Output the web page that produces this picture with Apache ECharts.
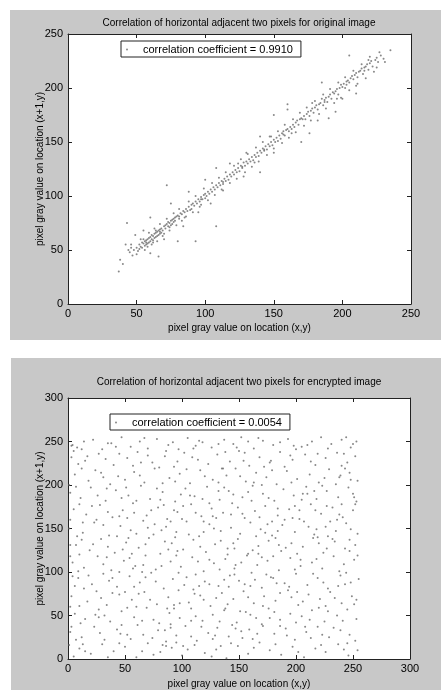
<!DOCTYPE html>
<html><head><meta charset="utf-8">
<script src="https://cdn.jsdelivr.net/npm/echarts@6/dist/echarts.min.js"></script>
<style>html,body{margin:0;padding:0;background:#fff}#c{width:441px;height:690px}</style>
</head><body><div id="c"></div>
<script>
// ---- data ----
var titleTop = "Correlation of horizontal adjacent two pixels for original image";
var titleBottom = "Correlation of horizontal adjacent two pixels for encrypted image";
var xAxisTitle = "pixel gray value on location (x,y)";
var yAxisTitle = "pixel gray value on location (x+1,y)";
var legendTop = "correlation coefficient = 0.9910";
var legendBottom = "correlation coefficient = 0.0054";
var ticksTop = [0, 50, 100, 150, 200, 250];
var ticksBottom = [0, 50, 100, 150, 200, 250, 300];

var originalPoints = [[37,30],[38,41],[40,37],[42,55],[43,75],[44,50],[45,48],[46,52],[47,45],[48,50],[49,64],[50,52],[51,49],[52,55],[52,51],[53,53],[54,57],[54,52],[55,56],[55,60],[56,54],[56,58],[57,59],[57,55],[58,60],[58,56],[59,61],[59,57],[60,80],[60,62],[60,58],[61,64],[61,60],[62,63],[62,59],[63,65],[63,61],[64,66],[64,62],[65,63],[65,67],[66,44],[66,68],[66,64],[67,65],[67,69],[68,70],[68,66],[69,68],[70,72],[70,60],[71,70],[71,73],[72,74],[72,110],[73,72],[73,76],[74,75],[74,71],[75,77],[75,73],[76,78],[76,74],[77,79],[77,76],[78,80],[78,77],[79,81],[80,58],[80,82],[81,79],[82,84],[83,83],[84,86],[84,72],[85,85],[86,88],[87,86],[88,90],[89,87],[90,92],[90,88],[91,93],[92,91],[93,95],[93,58],[94,93],[95,97],[96,95],[97,99],[98,97],[99,101],[100,98],[100,102],[101,100],[102,104],[103,102],[104,106],[104,93],[105,104],[106,108],[107,106],[108,110],[108,72],[109,108],[110,112],[111,110],[112,114],[113,111],[114,116],[115,114],[116,118],[117,115],[118,120],[118,130],[119,118],[120,122],[121,120],[122,124],[123,122],[124,126],[125,123],[126,128],[127,126],[128,131],[128,118],[129,128],[130,132],[131,130],[132,134],[133,132],[134,136],[135,133],[136,138],[137,136],[138,140],[139,137],[140,142],[140,155],[141,140],[142,144],[143,142],[144,146],[145,143],[146,148],[147,146],[148,150],[149,147],[150,152],[151,150],[152,154],[153,151],[154,156],[155,153],[156,158],[157,160],[158,156],[159,161],[160,162],[161,160],[162,164],[163,162],[164,166],[165,164],[166,168],[167,170],[168,166],[169,171],[170,172],[170,150],[172,174],[173,171],[174,176],[175,178],[176,174],[177,179],[178,181],[179,177],[180,182],[181,184],[182,180],[183,185],[184,186],[185,190],[186,184],[187,189],[188,191],[189,187],[190,192],[190,172],[191,194],[192,190],[193,196],[194,195],[195,197],[196,199],[197,194],[198,200],[199,203],[200,201],[201,204],[202,200],[203,206],[204,207],[205,205],[206,209],[207,211],[208,208],[209,212],[210,214],[211,210],[212,215],[213,216],[214,218],[215,213],[216,219],[217,220],[218,222],[219,217],[220,223],[221,225],[222,220],[224,226],[225,228],[226,224],[228,230],[230,227],[235,235],[200,190],[160,180],[150,140],[130,140],[100,115],[95,85],[160,185],[185,205],[210,195],[205,230],[75,93],[58,53],[62,57],[64,68],[69,63],[85,80],[96,90],[112,106],[124,130],[136,131],[148,155],[163,158],[178,186],[196,190],[210,202],[182,170],[150,175],
[46,55],[50,46],[53,60],[56,50],[59,66],[61,55],[63,70],[65,58],[67,74],[70,65],[72,79],[74,68],[77,84],[79,73],[81,88],[83,77],[86,81],[88,95],[91,85],[93,100],[97,92],[99,107],[102,96],[105,112],[107,101],[110,117],[113,105],[115,122],[118,112],[121,128],[123,116],[126,134],[129,122],[131,139],[134,127],[137,145],[139,132],[142,150],[145,138],[147,155],[150,144],[153,160],[156,149],[158,166],[161,154],[164,171],[166,159],[169,177],[172,165],[174,182],[177,170],[180,188],[183,176],[186,194],[188,181],[191,199],[194,186],[197,205],[199,191],[202,210],[205,198],[208,216],[211,204],[214,222],[217,209],[220,229],[223,215],[225,219],[219,226],[227,233],[231,224],[57,57],[67,67],[81,81],[97,97],[113,113],[127,127],[143,143],[157,157],[171,171],[187,187],[203,203],[216,216],[108,126],[176,158],[88,104],[140,122],[195,178],[60,47],[55,68]];

var encryptedPoints = [[8,243],[12,241],[4,246],[22,252],[35,248],[47,255],[55,244],[63,250],[78,253],[88,246],[97,241],[105,254],[118,249],[126,243],[137,252],[145,247],[152,255],[163,242],[171,251],[180,246],[193,253],[205,244],[214,250],[222,255],[231,247],[240,252],[248,243],[253,250],[30,241],[70,242],[112,245],[158,250],[200,241],[244,255],
[3,232],[15,228],[27,236],[40,223],[52,231],[61,238],[74,226],[85,233],[93,221],[102,237],[114,229],[123,224],[131,235],[142,227],[150,239],[159,222],[168,232],[177,226],[186,238],[197,229],[208,235],[217,223],[226,231],[236,237],[245,226],[252,233],[45,236],[80,220],[135,219],[190,221],[240,222],
[6,212],[18,205],[24,217],[37,201],[44,210],[58,215],[67,203],[76,219],[89,208],[98,213],[107,202],[116,217],[127,206],[139,211],[147,219],[156,204],[165,214],[174,209],[183,201],[192,216],[201,207],[212,212],[220,203],[229,218],[238,209],[247,214],[254,205],[50,206],[120,210],[170,200],[235,201],
[2,191],[11,185],[20,197],[33,182],[42,194],[53,188],[64,199],[72,184],[83,192],[94,181],[103,196],[111,187],[122,198],[133,183],[141,193],[153,186],[162,199],[171,190],[181,182],[189,195],[198,188],[209,198],[218,184],[227,193],[237,186],[246,197],[253,181],[60,182],[145,189],[210,190],
[5,172],[16,166],[28,177],[39,163],[48,171],[57,179],[69,165],[79,174],[87,161],[96,169],[108,178],[117,164],[126,173],[136,168],[144,179],[155,162],[164,170],[173,176],[184,165],[194,172],[203,161],[213,178],[222,167],[232,174],[241,163],[250,171],[100,161],[190,160],[25,160],
[1,150],[13,145],[23,157],[36,142],[46,153],[55,148],[66,159],[75,143],[86,152],[95,146],[104,158],[115,141],[124,155],[134,147],[143,151],[151,144],[160,157],[169,149],[179,142],[188,154],[199,146],[207,158],[216,143],[226,152],[235,147],[244,156],[254,144],[82,148],[175,155],[219,140],
[7,131],[19,125],[29,138],[41,122],[51,134],[62,128],[71,139],[81,121],[91,133],[101,126],[110,137],[121,123],[129,132],[140,127],[149,138],[158,121],[167,130],[176,136],[187,124],[196,133],[206,129],[215,139],[224,122],[234,135],[243,127],[252,131],[48,126],[140,120],[232,138],
[4,111],[14,105],[26,118],[38,102],[49,113],[59,107],[68,119],[77,103],[90,112],[99,106],[109,117],[119,101],[128,110],[138,115],[146,104],[157,119],[166,108],[175,113],[185,102],[195,116],[204,107],[214,111],[223,104],[233,118],[242,109],[251,114],[65,100],[180,118],[2,118],
[9,93],[21,86],[31,98],[43,83],[54,95],[63,88],[73,99],[84,81],[92,92],[102,85],[112,97],[120,89],[132,84],[142,96],[150,90],[161,99],[170,82],[178,94],[190,87],[200,98],[210,85],[219,93],[228,81],[239,96],[248,88],[255,92],[110,80],[160,84],[45,100],
[3,72],[17,66],[25,78],[34,62],[45,74],[56,68],[67,77],[78,63],[88,71],[97,79],[106,65],[116,73],[125,61],[135,76],[145,69],[154,78],[163,64],[172,72],[182,67],[193,79],[202,62],[211,74],[221,69],[230,77],[240,64],[249,72],[130,70],[60,60],
[6,52],[15,46],[27,57],[37,43],[47,55],[58,48],[69,59],[80,41],[89,53],[98,47],[108,58],[118,44],[127,51],[137,56],[148,42],[156,54],[165,47],[176,58],[186,45],[195,52],[205,49],[214,56],[225,43],[236,50],[245,57],[253,46],[90,40],[170,40],
[2,31],[12,25],[23,37],[32,22],[43,34],[52,28],[61,39],[74,24],[85,33],[95,27],[103,38],[113,21],[123,30],[131,36],[141,26],[152,32],[162,23],[171,38],[181,29],[191,35],[199,22],[209,31],[219,37],[229,25],[239,33],[247,28],[86,20],[144,39],
[5,3],[10,12],[20,6],[30,17],[40,9],[50,14],[60,2],[70,18],[81,8],[91,13],[100,4],[111,16],[120,7],[130,11],[139,1],[149,15],[158,6],[168,19],[177,10],[187,5],[197,14],[207,2],[217,12],[226,8],[237,17],[246,4],[254,10],[95,19],[134,15],[65,9],
[14,250],[42,244],[67,254],[92,249],[110,242],[132,247],[148,243],[167,254],[186,249],[210,246],[228,242],[250,247],
[9,224],[33,230],[57,222],[70,234],[96,227],[109,232],[138,238],[154,228],[172,221],[195,234],[213,227],[242,236],
[12,219],[31,209],[63,211],[83,202],[104,218],[132,203],[151,210],[179,217],[196,203],[225,208],[243,219],
[7,198],[26,188],[47,185],[78,196],[99,189],[118,184],[137,197],[158,192],[176,185],[205,183],[223,199],[250,190],
[10,178],[35,169],[52,162],[84,177],[112,168],[130,162],[149,174],[168,163],[199,176],[217,171],[236,160],[252,178],
[8,141],[31,154],[60,144],[70,151],[90,158],[119,146],[128,150],[165,141],[184,147],[211,152],[230,158],[248,149],
[12,137],[35,129],[56,121],[85,135],[96,124],[116,129],[145,133],[162,125],[182,139],[201,121],[220,133],[247,124],
[9,101],[31,109],[54,116],[82,107],[95,119],[124,114],[133,103],[152,111],[170,117],[199,103],[218,115],[238,101],
[14,81],[36,90],[58,83],[68,94],[97,99],[115,84],[137,91],[155,86],[174,97],[194,83],[224,88],[244,99],
[10,61],[29,70],[50,77],[72,68],[93,62],[111,75],[140,63],[158,71],[186,76],[206,66],[226,61],[253,68],
[11,41],[32,50],[52,59],[75,45],[93,58],[112,49],[133,43],[160,51],[181,54],[200,42],[220,59],[241,44],
[7,22],[28,30],[47,39],[66,28],[90,36],[108,26],[127,23],[147,35],[166,29],[186,38],[213,24],[233,36],[252,21],
[15,9],[35,2],[45,18],[75,5],[86,15],[105,11],[126,3],[143,18],[163,13],[182,17],[202,8],[222,16],[242,11],[1,16],[2,60],[1,200],[3,245],[2,160],
[17,233],[29,214],[38,248],[51,197],[64,226],[73,171],[86,239],[94,204],[107,188],[115,251],[124,179],[136,219],[143,166],[155,237],[163,203],[178,228],[184,173],[198,245],[206,190],[219,236],[227,176],[239,211],[251,186],
[13,157],[22,132],[34,117],[45,164],[53,139],[66,108],[76,155],[88,126],[93,171],[106,143],[114,112],[127,164],[134,136],[147,108],[153,167],[167,121],[173,145],[185,131],[197,162],[204,114],[218,149],[227,127],[238,166],[247,137],[254,119],
[18,96],[24,51],[39,76],[46,29],[57,104],[65,44],[77,89],[83,16],[98,64],[104,94],[117,37],[124,86],[138,58],[146,97],[153,24],[164,91],[177,47],[183,87],[196,71],[208,37],[215,98],[228,55],[237,84],[245,18],[251,63],
[6,84],[13,17],[27,48],[39,93],[55,23],[62,75],[79,33],[87,58],[101,15],[108,44],[119,68],[129,27],[141,83],[151,55],[159,34],[171,61],[180,93],[192,27],[201,77],[212,45],[223,28],[234,70],[243,86],[10,120],[21,176],[34,196],[43,141],[58,168],[68,132],[81,183],[94,140],[101,176],[119,158],[132,193],[146,127],[161,182],[179,158],[191,128],[203,171],[216,193],[228,141],[240,178],[248,206],[5,239],[4,95],[3,37],[2,131]];

// ---- chart ----
var FONT = "Liberation Sans";
var chart = echarts.init(document.getElementById('c'), null, {renderer: 'canvas'});
var grids = [
  {left: 68, top: 34, width: 343, height: 270},
  {left: 68, top: 398, width: 342, height: 264}
];
function axisSet(gi, ticks, dim, pos, showLabels, nameGap) {
  var a = {
    type: 'value', gridIndex: gi, position: pos,
    min: ticks[0], max: ticks[ticks.length - 1], interval: ticks[1] - ticks[0],
    axisLine: {show: true, onZero: false, lineStyle: {color: '#222', width: 1}},
    axisTick: {show: true, inside: true, length: 4, lineStyle: {color: '#222'}},
    splitLine: {show: false},
    axisLabel: {show: showLabels, color: '#000', fontFamily: FONT, fontSize: 11, margin: dim === 'x' ? 4 : 5}
  };
  if (nameGap) {
    a.name = dim === 'x' ? xAxisTitle : yAxisTitle;
    a.nameLocation = 'middle';
    a.nameGap = nameGap;
    a.nameMoveOverlap = false;
    a.nameTextStyle = {color: '#000', fontFamily: FONT, fontSize: 10};
  }
  return a;
}
var xAxes = [
  axisSet(0, ticksTop, 'x', 'bottom', true, 19),
  axisSet(0, ticksTop, 'x', 'top', false, 0),
  axisSet(1, ticksBottom, 'x', 'bottom', true, 20),
  axisSet(1, ticksBottom, 'x', 'top', false, 0)
];
var yAxes = [
  axisSet(0, ticksTop, 'y', 'left', true, 23),
  axisSet(0, ticksTop, 'y', 'right', false, 0),
  axisSet(1, ticksBottom, 'y', 'left', true, 23),
  axisSet(1, ticksBottom, 'y', 'right', false, 0)
];
function legendAt(name, left, top) {
  return {
    data: [name], left: left, top: top, orient: 'horizontal',
    backgroundColor: '#fff', borderColor: '#222', borderWidth: 1, borderRadius: 0,
    padding: [3, 8, 2, 5], itemWidth: 22, itemHeight: 2, itemGap: 0,
    textStyle: {color: '#000', fontFamily: FONT, fontSize: 11},
    selectedMode: false
  };
}
chart.setOption({
  animation: false,
  backgroundColor: '#fff',
  graphic: [
    {type: 'rect', z: -10, silent: true, shape: {x: 10, y: 10, width: 431, height: 330}, style: {fill: '#c8c8c8'}},
    {type: 'rect', z: -10, silent: true, shape: {x: 11, y: 358, width: 430, height: 332}, style: {fill: '#c8c8c8'}},
    {type: 'text', x: 239, y: 23, style: {text: titleTop, fill: '#000', font: '10px "Liberation Sans"', textAlign: 'center', textVerticalAlign: 'middle'}},
    {type: 'text', x: 239, y: 382, style: {text: titleBottom, fill: '#000', font: '10px "Liberation Sans"', textAlign: 'center', textVerticalAlign: 'middle'}}
  ],
  grid: grids.map(function (g) {
    return Object.assign({show: true, backgroundColor: '#fff', borderWidth: 0, containLabel: false}, g);
  }),
  legend: [legendAt(legendTop, 121, 41), legendAt(legendBottom, 110, 414)],
  xAxis: xAxes,
  yAxis: yAxes,
  series: [
    {name: legendTop, type: 'scatter', xAxisIndex: 0, yAxisIndex: 0, data: originalPoints,
     symbol: 'circle', symbolSize: 2, itemStyle: {color: '#6a6a6a'}, emphasis: {disabled: true}},
    {name: legendBottom, type: 'scatter', xAxisIndex: 2, yAxisIndex: 2, data: encryptedPoints,
     symbol: 'circle', symbolSize: 2, itemStyle: {color: '#6a6a6a'}, emphasis: {disabled: true}}
  ]
});
</script></body></html>
